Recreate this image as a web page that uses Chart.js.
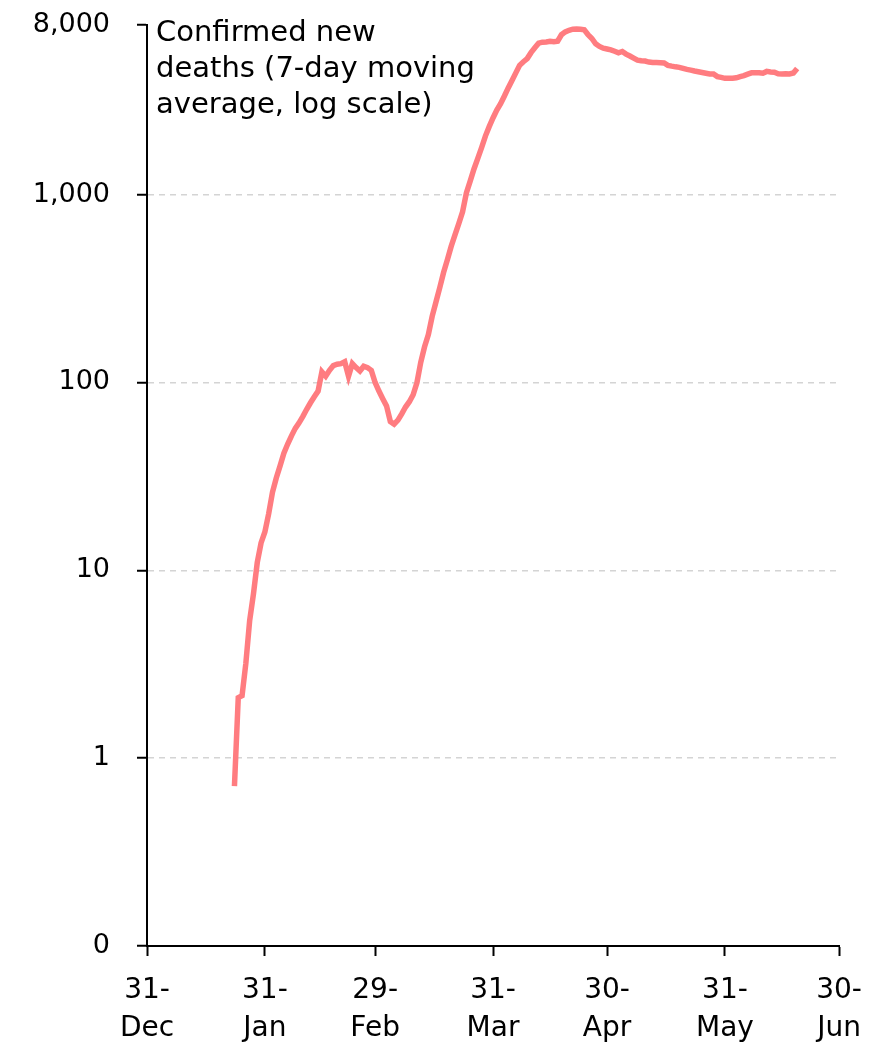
<!DOCTYPE html>
<html><head><meta charset="utf-8">
<script src="https://cdn.jsdelivr.net/npm/chart.js@4"></script>
<style>html,body{margin:0;padding:0;background:#fff}#wrap{width:892px;height:1045px;position:relative}</style>
</head><body><div id="wrap"><canvas id="c"></canvas></div>
<script>
// day offset counted from 31-Dec (day 0)
const firstDay = 23;
const deaths = [
  0.71, 2.1, 2.15, 3.2, 5.4, 7.5, 11, 14, 16, 20,
  26, 31, 36, 42, 47, 52, 57, 61, 66, 72,
  78, 84, 90, 114, 108, 116, 123, 125, 126, 129,
  108, 126, 120, 115, 122, 120, 116, 100, 90, 82,
  75, 62, 60, 63, 68, 74, 79, 86, 100, 128,
  155, 180, 225, 268, 320, 385, 450, 530, 610, 700,
  810, 1020, 1180, 1370, 1560, 1780, 2050, 2300, 2560, 2820,
  3050, 3350, 3700, 4050, 4450, 4880, 5100, 5300, 5700, 6050,
  6400, 6480, 6500, 6550, 6520, 6560, 7100, 7350, 7500, 7600,
  7620, 7600, 7550, 7100, 6780, 6350, 6150, 6020, 5960, 5900,
  5800, 5690, 5780, 5600, 5470, 5330, 5200, 5160, 5140, 5080,
  5050, 5050, 5040, 5020, 4880, 4830, 4790, 4760, 4700, 4640,
  4600, 4550, 4510, 4470, 4430, 4390, 4390, 4250, 4210, 4160,
  4160, 4170, 4190, 4250, 4300, 4380, 4450, 4450, 4460, 4430,
  4530, 4500, 4480, 4400, 4390, 4400, 4390, 4440, 4700
];
const xTickDays = [0, 31, 60, 91, 121, 152, 182];
const xTickLabels = [["31-","Dec"],["31-","Jan"],["29-","Feb"],["31-","Mar"],["30-","Apr"],["31-","May"],["30-","Jun"]];
const yTickValues = [0.1, 1, 10, 100, 1000, 8000];
const yTickLabels = ["0", "1", "10", "100", "1,000", "8,000"];
const titleLines = ["Confirmed new", "deaths (7-day moving", "average, log scale)"];

const points = deaths.map((v, i) => ({x: firstDay + i, y: v}));
const FONT = "'DejaVu Sans', 'Liberation Sans', sans-serif";

const titlePlugin = {
  id: 'innerTitle',
  afterDraw(chart) {
    const ctx = chart.ctx;
    ctx.save();
    ctx.font = "29px " + FONT;
    ctx.fillStyle = '#000';
    ctx.textAlign = 'left';
    ctx.textBaseline = 'alphabetic';
    titleLines.forEach((t, i) => ctx.fillText(t, 156, 41 + i * 36));
    ctx.restore();
  }
};

function zeroPad(s) { s.paddingTop = 0; s.paddingBottom = 0; s.paddingLeft = 0; s.paddingRight = 0; }

new Chart(document.getElementById('c'), {
  type: 'line',
  data: {
    datasets: [{
      data: points,
      borderColor: '#FF7C80',
      borderWidth: 5.5,
      pointRadius: 0,
      tension: 0,
      fill: false
    }]
  },
  plugins: [titlePlugin],
  options: {
    responsive: true,
    maintainAspectRatio: false,
    animation: false,
    layout: {padding: {top: 25, right: 53, left: 0, bottom: 0}},
    plugins: {legend: {display: false}, tooltip: {enabled: false}},
    scales: {
      x: {
        type: 'linear',
        min: 0, max: 182,
        afterBuildTicks: s => { s.ticks = xTickDays.map(v => ({value: v})); },
        afterFit: s => { s.height = 99; zeroPad(s); },
        ticks: {
          autoSkip: false, maxRotation: 0,
          callback: v => xTickLabels[xTickDays.indexOf(v)] || '',
          font: {family: FONT, size: 28, lineHeight: 1.36},
          color: '#000', padding: 16
        },
        grid: {drawOnChartArea: false, tickLength: 10, tickColor: '#000', tickWidth: 2},
        border: {color: '#000', width: 2}
      },
      y: {
        type: 'logarithmic',
        min: 0.1, max: 8000,
        afterBuildTicks: s => { s.ticks = yTickValues.map(v => ({value: v})); },
        afterFit: s => { s.width = 147; zeroPad(s); },
        ticks: {
          autoSkip: false,
          callback: v => {
            const i = yTickValues.findIndex(t => Math.abs(t - v) / t < 1e-6);
            return i >= 0 ? yTickLabels[i] : '';
          },
          font: {family: FONT, size: 27},
          color: '#000', padding: 27
        },
        grid: {
          color: c => (c.tick && (c.tick.value === 0.1 || c.tick.value === 8000)) ? 'rgba(0,0,0,0)' : '#d4d4d4',
          lineWidth: 1.5,
          tickLength: 10, tickColor: '#000', tickWidth: 2, tickBorderDash: []
        },
        border: {color: '#000', width: 2, dash: [6, 5]}
      }
    }
  }
});
</script>
</body></html>
